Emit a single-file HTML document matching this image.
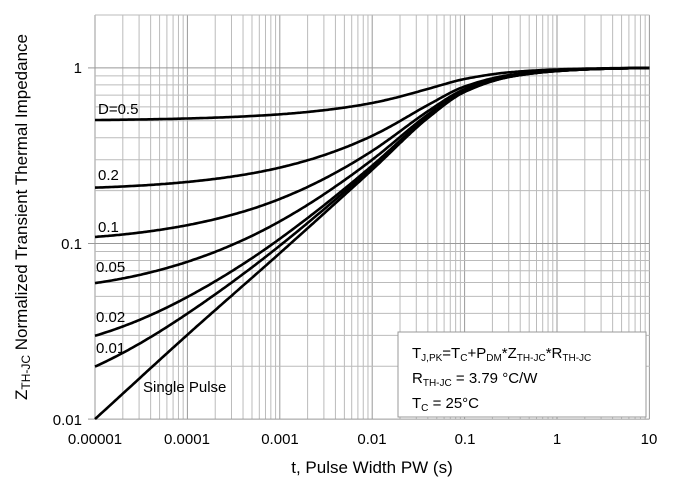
<!DOCTYPE html>
<html><head><meta charset="utf-8"><style>
html,body{margin:0;padding:0;background:#fff;}
svg{display:block;font-family:"Liberation Sans",Arial,sans-serif;}
</style></head><body>
<svg id="s" width="676" height="486" viewBox="0 0 676 486" xmlns="http://www.w3.org/2000/svg">
<g id="grid"></g>
<g id="curves" fill="none" stroke="#000" stroke-width="2.6"></g>
<g font-size="15" fill="#000">
<text x="98" y="114">D=0.5</text>
<text x="98" y="180">0.2</text>
<text x="98" y="232">0.1</text>
<text x="96" y="272">0.05</text>
<text x="96" y="322">0.02</text>
<text x="96" y="353">0.01</text>
<text x="143" y="392">Single Pulse</text>
</g>
<rect x="398" y="332" width="248" height="85" fill="#fff" stroke="#999" stroke-width="1"/>
<g font-size="15" fill="#000">
<text x="412" y="358">T<tspan font-size="10" dy="3">J,PK</tspan><tspan dy="-3">=T</tspan><tspan font-size="10" dy="3">C</tspan><tspan dy="-3">+P</tspan><tspan font-size="10" dy="3">DM</tspan><tspan dy="-3">*Z</tspan><tspan font-size="10" dy="3">TH-JC</tspan><tspan dy="-3">*R</tspan><tspan font-size="10" dy="3">TH-JC</tspan></text>
<text x="412" y="383">R<tspan font-size="10" dy="3">TH-JC</tspan><tspan dy="-3"> = 3.79 °C/W</tspan></text>
<text x="412" y="408">T<tspan font-size="10" dy="3">C</tspan><tspan dy="-3"> = 25°C</tspan></text>
</g>
<g font-size="15" fill="#000" text-anchor="end">
<text x="82" y="73">1</text>
<text x="82" y="249">0.1</text>
<text x="82" y="425">0.01</text>
</g>
<g font-size="15" fill="#000" text-anchor="middle">
<text x="95" y="444">0.00001</text>
<text x="187" y="444">0.0001</text>
<text x="280" y="444">0.001</text>
<text x="372" y="444">0.01</text>
<text x="465" y="444">0.1</text>
<text x="557" y="444">1</text>
<text x="649" y="444">10</text>
<text x="372" y="473" font-size="17">t, Pulse Width PW (s)</text>
</g>
<text transform="translate(27,217) rotate(-90)" font-size="17" text-anchor="middle">Z<tspan font-size="12" dy="3">TH-JC</tspan><tspan dy="-3"> Normalized Transient Thermal Impedance</tspan></text>
</svg>
<script>
var X0=95,DX=92.4,Y1=67.9,DY=175.6;
function xs(t){return X0+(Math.log10(t)+5)*DX;}
function ys(v){return Y1-Math.log10(v)*DY;}
var g=document.getElementById('grid'),h='';
for(var d=-5;d<1;d++)for(var m=1;m<10;m++){var t=m*Math.pow(10,d);var x=xs(t);
h+='<line x1="'+x+'" y1="15" x2="'+x+'" y2="419" stroke="'+(m==1?'#999':'#bbb')+'" stroke-width="1"/>';}
h+='<line x1="'+xs(10)+'" y1="15" x2="'+xs(10)+'" y2="419" stroke="#999"/>';
for(var d=-2;d<1;d++)for(var m=1;m<10;m++){var v=m*Math.pow(10,d);var y=ys(v);if(y<15)continue;
h+='<line x1="95" y1="'+y+'" x2="649.5" y2="'+y+'" stroke="'+(m==1?'#999':'#bbb')+'" stroke-width="1"/>';}
h+='<line x1="95" y1="15" x2="649.5" y2="15" stroke="#bbb"/>';
h+='<line x1="88" y1="'+ys(1)+'" x2="95" y2="'+ys(1)+'" stroke="#999"/><line x1="88" y1="'+ys(0.1)+'" x2="95" y2="'+ys(0.1)+'" stroke="#999"/><line x1="88" y1="'+ys(0.01)+'" x2="95" y2="'+ys(0.01)+'" stroke="#999"/>';
g.innerHTML=h;
var PX=[-5,-4,-3,-2,-1.38,-1,-0.5,0,0.5,1];
var PY=[-2,-1.52,-1.055,-0.58,-0.278,-0.137,-0.05,-0.018,-0.005,0];
var n=PX.length,dl=[],m=[];
for(var i=0;i<n-1;i++)dl.push((PY[i+1]-PY[i])/(PX[i+1]-PX[i]));
m[0]=dl[0];m[n-1]=dl[n-2];
for(var i=1;i<n-1;i++){if(dl[i-1]*dl[i]<=0)m[i]=0;else{var h0=PX[i]-PX[i-1],h1=PX[i+1]-PX[i];var w1=2*h1+h0,w2=h1+2*h0;m[i]=(w1+w2)/(w1/dl[i-1]+w2/dl[i]);}}
function zs(u){var i=0;while(i<n-2&&u>PX[i+1])i++;var hh=PX[i+1]-PX[i],t=(u-PX[i])/hh;
var h00=2*t*t*t-3*t*t+1,h10=t*t*t-2*t*t+t,h01=-2*t*t*t+3*t*t,h11=t*t*t-t*t;
return Math.pow(10,h00*PY[i]+h10*hh*m[i]+h01*PY[i+1]+h11*hh*m[i+1]);}
var D=[0.5,0.2,0.1,0.05,0.02,0.01,0];var c='';
D.forEach(function(dd){var s='';for(var lt=-5;lt<=1.0001;lt+=0.02){var z=dd+(1-dd)*zs(lt);if(z>1)z=1;
s+=(s?'L':'M')+xs(Math.pow(10,lt)).toFixed(1)+','+ys(z).toFixed(1);}
c+='<path d="'+s+'"/>';});
document.getElementById('curves').innerHTML=c;
</script>
</body></html>
